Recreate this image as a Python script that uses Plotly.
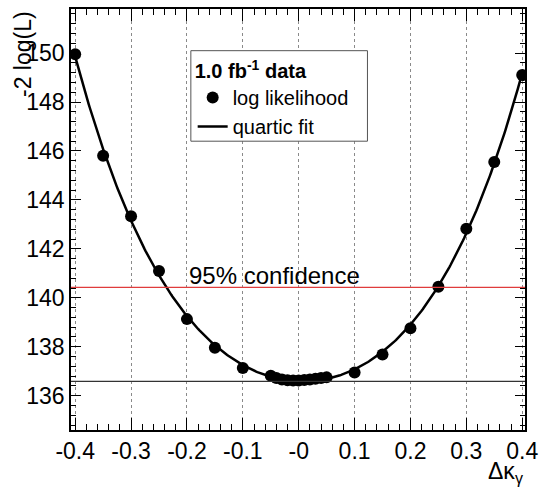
import numpy as np
import plotly.graph_objects as go

# ---- data ----
delta_kappa = [-0.40, -0.35, -0.30, -0.25, -0.20, -0.15, -0.10, -0.05, -0.04, -0.03,
               -0.02, -0.01, 0.00, 0.01, 0.02, 0.03, 0.04, 0.05, 0.10, 0.15,
               0.20, 0.25, 0.30, 0.35, 0.40]
minus2logL = [149.95, 145.80, 143.33, 141.10, 139.13, 137.96, 137.13, 136.82, 136.72, 136.66,
              136.63, 136.62, 136.62, 136.64, 136.66, 136.69, 136.72, 136.75, 136.95, 137.68,
              138.76, 140.45, 142.82, 145.55, 149.10]
x_tickvals = [-0.4, -0.3, -0.2, -0.1, 0.0, 0.1, 0.2, 0.3, 0.4]
x_ticktext = ["-0.4", "-0.3", "-0.2", "-0.1", "-0", "0.1", "0.2", "0.3", "0.4"]
y_tickvals = [136, 138, 140, 142, 144, 146, 148, 150]
delta_95 = 3.84

# quartic fit of the likelihood points
coef = np.polyfit(delta_kappa, minus2logL, 4)
xf = np.linspace(-0.4, 0.4, 401)
yf = np.polyval(coef, xf)
ymin = float(yf.min())
y95 = ymin + delta_95

FONT = "Liberation Sans, Arial, Helvetica, sans-serif"

fig = go.Figure()
fig.add_trace(go.Scatter(x=xf, y=yf, mode="lines", name="quartic fit",
                         line=dict(color="black", width=2.5)))
fig.add_trace(go.Scatter(x=delta_kappa, y=minus2logL, mode="markers", name="log likelihood",
                         marker=dict(color="black", size=12)))

fig.add_shape(type="line", xref="paper", x0=0, x1=1, yref="y", y0=y95, y1=y95,
              line=dict(color="#e03c3c", width=1.2))
fig.add_shape(type="line", xref="paper", x0=0, x1=1, yref="y", y0=ymin, y1=ymin,
              line=dict(color="#333333", width=1.2))
# legend frame
fig.add_shape(type="rect", xref="paper", yref="paper", x0=0.264, x1=0.653, y0=0.686, y1=0.901,
              line=dict(color="#555555", width=1), fillcolor="white", layer="above")

fig.add_annotation(x=-0.2, y=y95, xref="x", yref="y", text="95% confidence",
                   showarrow=False, xanchor="left", yanchor="bottom", yshift=-4,
                   font=dict(family=FONT, size=24, color="black"))
fig.add_annotation(x=0, y=1, xref="paper", yref="paper", text="-2 log(L)",
                   textangle=-90, showarrow=False, xanchor="right", yanchor="top",
                   xshift=-33, font=dict(family=FONT, size=23, color="black"))
fig.add_annotation(x=1, y=0, xref="paper", yref="paper", text="Δκ<sub>γ</sub>",
                   showarrow=False, xanchor="right", yanchor="top", yshift=-26,
                   font=dict(family=FONT, size=23, color="black"))

axis_common = dict(showline=True, linecolor="black", linewidth=1.5, mirror="allticks",
                   ticks="inside", tickcolor="black", tickwidth=1.2, zeroline=False,
                   tickfont=dict(family=FONT, size=23, color="black"))

fig.update_xaxes(range=[-0.4075, 0.405], tickvals=x_tickvals, ticktext=x_ticktext,
                 ticklen=12, showgrid=True, gridcolor="#8a8a8a", griddash="dot", gridwidth=1,
                 minor=dict(ticks="inside", ticklen=6, dtick=0.02, tick0=0, showgrid=False,
                            tickcolor="black"),
                 **axis_common)
fig.update_yaxes(range=[134.6, 151.8], tickvals=y_tickvals, ticklen=10, showgrid=False,
                 minor=dict(ticks="inside", ticklen=5, dtick=0.4, tick0=136, showgrid=False,
                            tickcolor="black"),
                 **axis_common)

fig.update_layout(
    width=545, height=488,
    margin=dict(l=71, r=16, t=7, b=58),
    paper_bgcolor="white", plot_bgcolor="white",
    font=dict(family=FONT, color="black"),
    showlegend=True,
    legend=dict(x=0.268, y=0.898, xanchor="left", yanchor="top",
                bgcolor="rgba(0,0,0,0)", borderwidth=0,
                title=dict(text="<b>1.0 fb<sup>-1</sup> data</b>", font=dict(family=FONT, size=20)),
                font=dict(family=FONT, size=20), traceorder="reversed",
                itemwidth=30),
)

fig.write_html("out.html")
